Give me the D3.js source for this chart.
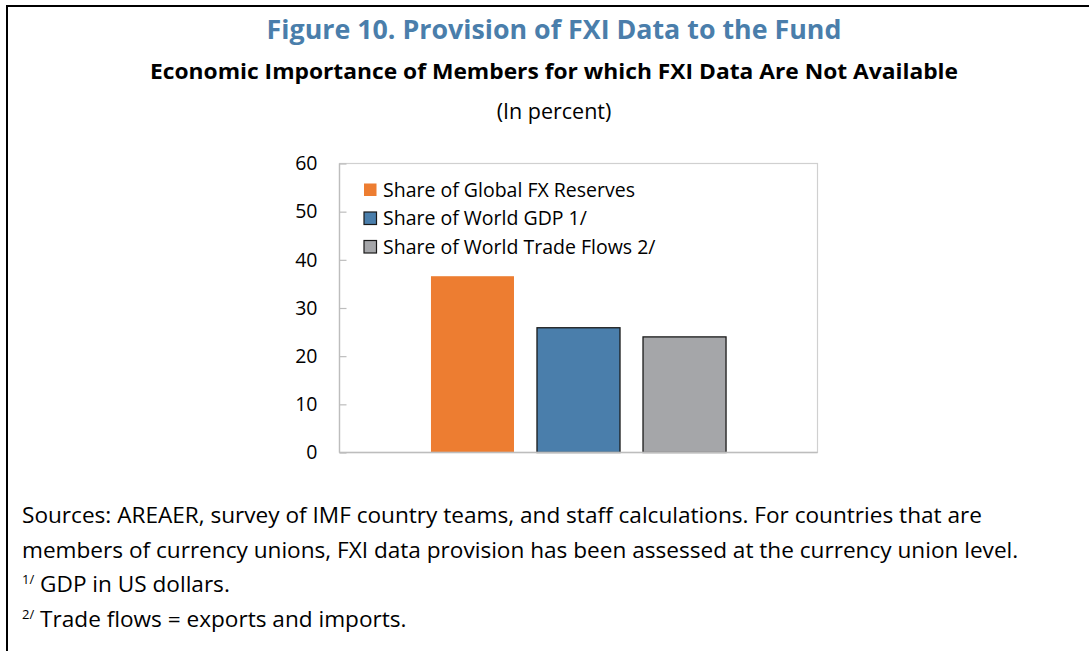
<!DOCTYPE html>
<html>
<head>
  <meta charset="utf-8">
  <script src="https://d3js.org/d3.v7.min.js"></script>
  <style>
    body { margin: 0; background: #fff; }
    svg text { font-family: "Open Sans", "Noto Sans", sans-serif; }
  </style>
</head>
<body>
  <script>
    // chart values
    var series = ["Share of Global FX Reserves", "Share of World GDP 1/", "Share of World Trade Flows 2/"];
    var values = [36.6, 25.9, 24.0];
    var colors = ["#ed7d31", "#4a7eab", "#a5a6a9"];
    var strokes = ["none", "#1a1a1a", "#1a1a1a"];
    var yTicks = [0, 10, 20, 30, 40, 50, 60];
    var notes = [
      "Sources: AREAER, survey of IMF country teams, and staff calculations. For countries that are",
      "members of currency unions, FXI data provision has been assessed at the currency union level."
    ];

    function draw() {
      var W = 1089, H = 651;
      var svg = d3.select("body").append("svg")
        .attr("width", W).attr("height", H);

      // outer frame: top and left only
      svg.append("line").attr("x1", 6).attr("x2", W).attr("y1", 6).attr("y2", 6)
        .attr("stroke", "#000").attr("stroke-width", 2);
      svg.append("line").attr("x1", 7).attr("x2", 7).attr("y1", 5).attr("y2", H)
        .attr("stroke", "#000").attr("stroke-width", 2);

      // headings
      svg.append("text").attr("x", 554).attr("y", 39).attr("text-anchor", "middle")
        .attr("font-size", 26.8).attr("font-weight", "bold").attr("fill", "#4a7eab")
        .text("Figure 10. Provision of FXI Data to the Fund");
      svg.append("text").attr("x", 554).attr("y", 79).attr("text-anchor", "middle")
        .attr("font-size", 21.5).attr("font-weight", "bold").attr("fill", "#000")
        .attr("textLength", 808).attr("lengthAdjust", "spacingAndGlyphs")
        .text("Economic Importance of Members for which FXI Data Are Not Available");
      svg.append("text").attr("x", 554).attr("y", 119).attr("text-anchor", "middle")
        .attr("font-size", 21.5).attr("fill", "#000")
        .text("(In percent)");

      // plot area
      var pLeft = 339.5, pRight = 817.5, pTop = 163.5, pBottom = 452.5;
      var y = d3.scaleLinear().domain([0, 60]).range([pBottom, pTop]);
      var x0 = d3.scaleBand().domain(["all"]).range([pLeft, pRight]).paddingInner(0).paddingOuter(0.31);
      var x1 = d3.scaleBand().domain(series).range([0, x0.bandwidth()]).paddingInner(0.217).paddingOuter(0);

      var g = svg.append("g");

      // bars
      g.selectAll("rect.bar").data(series).enter().append("rect")
        .attr("class", "bar")
        .attr("x", function(d) { return x0("all") + x1(d); })
        .attr("width", x1.bandwidth())
        .attr("y", function(d, i) { return y(values[i]); })
        .attr("height", function(d, i) { return y(0) - y(values[i]); })
        .attr("fill", function(d, i) { return colors[i]; })
        .attr("stroke", function(d, i) { return strokes[i]; })
        .attr("stroke-width", 1.3);

      // frame of plot
      g.append("rect").attr("x", pLeft).attr("y", pTop)
        .attr("width", pRight - pLeft).attr("height", pBottom - pTop)
        .attr("fill", "none").attr("stroke", "#d0d0d0").attr("stroke-width", 1.2);
      g.append("line").attr("x1", pLeft).attr("x2", pLeft).attr("y1", pTop).attr("y2", pBottom)
        .attr("stroke", "#bdbdbd").attr("stroke-width", 1.3);
      g.append("line").attr("x1", pLeft).attr("x2", pRight).attr("y1", pBottom).attr("y2", pBottom)
        .attr("stroke", "#bdbdbd").attr("stroke-width", 1.3);

      // y axis
      var yAxis = d3.axisLeft(y).tickValues(yTicks).tickSizeInner(-7).tickSizeOuter(0).tickPadding(22);
      var ya = g.append("g").attr("transform", "translate(" + pLeft + ",0)").call(yAxis);
      ya.select(".domain").remove();
      ya.selectAll(".tick line").attr("stroke", "#bdbdbd").attr("stroke-width", 1.2);
      ya.selectAll(".tick text").attr("font-size", 19.5).attr("fill", "#000")
        .attr("font-family", "'Open Sans', sans-serif");

      // legend
      var leg = g.selectAll("g.leg").data(series).enter().append("g")
        .attr("class", "leg")
        .attr("transform", function(d, i) { return "translate(364," + (183.5 + i * 28.5) + ")"; });
      leg.append("rect").attr("width", 12.5).attr("height", 12.5)
        .attr("fill", function(d, i) { return colors[i]; })
        .attr("stroke", function(d, i) { return strokes[i]; })
        .attr("stroke-width", 1.2);
      leg.append("text").attr("x", 19).attr("y", 13)
        .attr("font-size", 19.5).attr("fill", "#000")
        .text(function(d) { return d; });

      // notes
      svg.selectAll("text.note").data(notes).enter().append("text")
        .attr("class", "note")
        .attr("x", 22).attr("y", function(d, i) { return 523 + i * 35; })
        .attr("font-size", 22.6).attr("fill", "#000")
        .text(function(d) { return d; });

      var fn1 = svg.append("text").attr("x", 22).attr("y", 592).attr("font-size", 22.6).attr("fill", "#000");
      fn1.append("tspan").attr("font-size", 13).attr("dy", -8).text("1/");
      fn1.append("tspan").attr("dy", 8).text(" GDP in US dollars.");
      var fn2 = svg.append("text").attr("x", 22).attr("y", 627).attr("font-size", 22.6).attr("fill", "#000");
      fn2.append("tspan").attr("font-size", 13).attr("dy", -8).text("2/");
      fn2.append("tspan").attr("dy", 8).text(" Trade flows = exports and imports.");
    }

    draw();
  </script>
</body>
</html>
